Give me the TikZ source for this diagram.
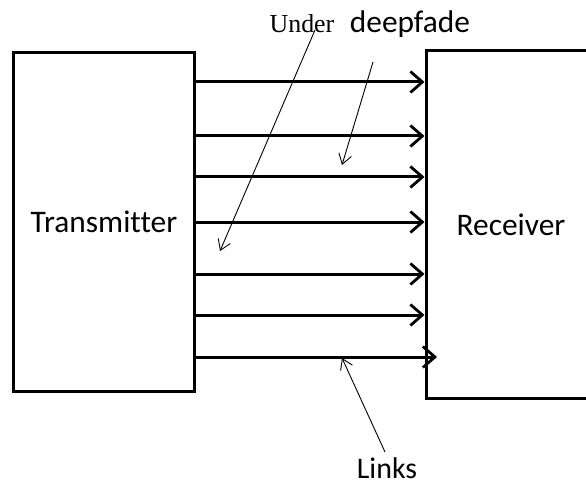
\documentclass[tikz,border=0pt]{standalone}
\usepackage{fontspec}
\setmainfont{Carlito}[Ligatures=NoCommon]
\newfontfamily\timesfont{Liberation Serif}
\usetikzlibrary{arrows.meta}
\tikzset{
  blockbox/.style={draw=black, line width=3bp, inner sep=0pt, fill=white,
    font=\fontsize{31.5}{36}\selectfont},
  link/.style={line width=3bp, -{Straight Barb[length=12bp,width=21bp,line width=2.8bp]}},
  pointer/.style={line width=0.9bp, -{Straight Barb[length=10bp,width=13bp,line width=0.9bp]}},
  lbl/.style={inner sep=0pt, anchor=base, font=\fontsize{31.5}{36}\selectfont}
}
\begin{document}
\begin{tikzpicture}[x=1bp,y=-1bp]
\useasboundingbox (0,0) rectangle (586,485);
\clip (0,0) rectangle (586,485);
\fill[white] (0,0) rectangle (586,485);
% blocks
\node[blockbox, minimum width=180bp, minimum height=338bp] (tx) at (104,222) {Transmitter};
\node[blockbox, minimum width=180bp, minimum height=347bp] (rx) at (516,224.5) {\hspace*{-10bp}Receiver};
% links
\foreach \i/\y in {1/82,2/136,3/177,4/222,5/274,6/315} {
  \coordinate (s\i) at (tx.east |- 0,\y);
  \coordinate (e\i) at (rx.west |- 0,\y);
  \draw[link] (s\i) -- (e\i);
}
\coordinate (s7) at (tx.east |- 0,357);
\coordinate (e7) at (437,357);
\draw[link] (s7) -- (e7);
% labels
\node[lbl, font=\fontsize{26}{30}\selectfont\timesfont] (under) at (302,33) {Under};
\node[lbl] (deep) at (410,33) {deepfade};
\node[lbl, font=\fontsize{30}{34}\selectfont] (links) at (387,478) {Links};
% pointers
\coordinate (p1a) at (315,30);
\coordinate (p1b) at (220,251);
\draw[pointer] (p1a) -- (p1b);
\coordinate (p2a) at (373,62);
\coordinate (p2b) at (342,165);
\draw[pointer] (p2a) -- (p2b);
\coordinate (p3a) at (385,452);
\coordinate (p3b) at (342,358);
\draw[pointer] (p3a) -- (p3b);
\end{tikzpicture}
\end{document}
